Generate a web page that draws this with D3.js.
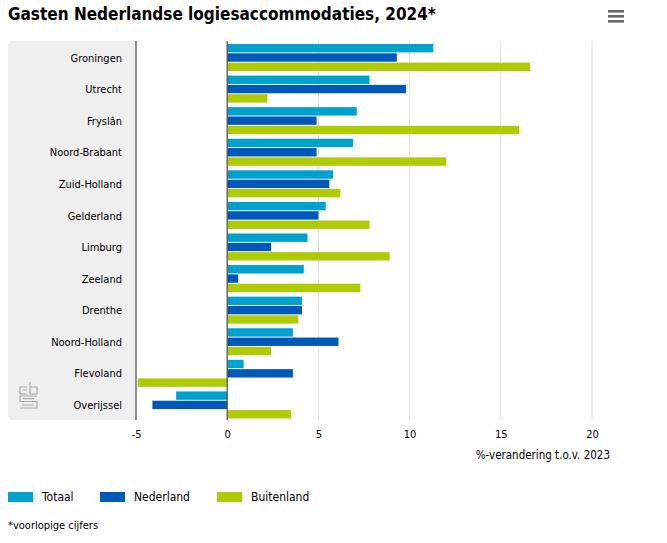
<!DOCTYPE html>
<html>
<head>
<meta charset="utf-8">
<script src="https://cdn.jsdelivr.net/npm/d3@7"></script>
<style>
  body { margin: 0; background: #fff; }
  svg text { font-family: "DejaVu Sans Condensed", "DejaVu Sans", sans-serif; fill: #000; }
</style>
</head>
<body>
<svg id="svg"></svg>
<script>
const provincies = ['Groningen','Utrecht','Fryslân','Noord-Brabant','Zuid-Holland','Gelderland',
  'Limburg','Zeeland','Drenthe','Noord-Holland','Flevoland','Overijssel'];
const series = ['Totaal','Nederland','Buitenland'];
const totaal     = [11.3, 7.8, 7.1, 6.9, 5.8, 5.4, 4.4, 4.2, 4.1, 3.6, 0.9, -2.8];
const nederland  = [9.3, 9.8, 4.9, 4.9, 5.6, 5.0, 2.4, 0.6, 4.1, 6.1, 3.6, -4.1];
const buitenland = [16.6, 2.2, 16.0, 12.0, 6.2, 7.8, 8.9, 7.3, 3.9, 2.4, -4.9, 3.5];
const ticks = [-5, 0, 5, 10, 15, 20];
const colors = ['#00a1cd', '#0058b8', '#afcb05'];

const W = 667, H = 543;
const pTop = 41, pBottom = 420, pLeft = 136, pRight = 592;

const rows = provincies.map((p, i) => ({p, v: [totaal[i], nederland[i], buitenland[i]]}));

const svg = d3.select('#svg').attr('width', W).attr('height', H);

const x = d3.scaleLinear().domain([-5, 20]).range([pLeft, pRight]);
const y = d3.scaleBand().domain(provincies).range([pTop, pBottom]);
const ySub = d3.scaleBand().domain(series).range([3, 30]).paddingInner(0.1);

// title
svg.append('text')
  .attr('x', 8).attr('y', 20)
  .style('font-size', '17px').style('font-weight', 'bold')
  .text('Gasten Nederlandse logiesaccommodaties, 2024*');

// menu icon
svg.append('g').selectAll('rect')
  .data([0, 1, 2])
  .enter().append('rect')
  .attr('x', 608).attr('y', d => 10 + d * 5)
  .attr('width', 16).attr('height', 2.6)
  .attr('fill', '#666');

// label panel
svg.append('path')
  .attr('d', `M${pLeft},${pTop} H13 Q8,${pTop} 8,${pTop + 5} V${pBottom - 5} Q8,${pBottom} 13,${pBottom} H${pLeft} Z`)
  .attr('fill', '#efefef');

// cbs logo (simplified)
const logo = svg.append('g')
  .attr('transform', 'translate(19,382)')
  .attr('fill', 'none').attr('stroke', '#aaa').attr('stroke-width', 1.2);
logo.append('path').attr('d', 'M8,5 H1 V12 H8 M4,8 H8');
logo.append('path').attr('d', 'M11,0 V12 H18 V5 H11');
logo.append('path').attr('d', 'M18,14 H1 V19.5 H18 V26 H1 M4,16.7 H15 M3,23 H15');

// gridlines
svg.append('g').selectAll('line')
  .data(ticks.filter(t => t > 0))
  .enter().append('line')
  .attr('x1', d => x(d)).attr('x2', d => x(d))
  .attr('y1', pTop).attr('y2', pBottom)
  .attr('stroke', '#e0e0e0').attr('stroke-width', 1);

// bars
const groups = svg.append('g').selectAll('g')
  .data(rows)
  .enter().append('g')
  .attr('transform', d => `translate(0,${y(d.p)})`);

groups.selectAll('rect')
  .data(d => d.v.map((v, i) => ({v, s: series[i], i})))
  .enter().append('rect')
  .attr('x', d => x(Math.min(0, d.v)))
  .attr('width', d => Math.abs(x(d.v) - x(0)))
  .attr('y', d => ySub(d.s))
  .attr('height', ySub.bandwidth())
  .attr('fill', d => colors[d.i]);

// axis lines at -5 and 0
svg.append('g').selectAll('line')
  .data([-5, 0])
  .enter().append('line')
  .attr('x1', d => x(d)).attr('x2', d => x(d))
  .attr('y1', pTop).attr('y2', pBottom)
  .attr('stroke', '#555').attr('stroke-width', 1.3);

// category labels
svg.append('g').selectAll('text')
  .data(provincies)
  .enter().append('text')
  .attr('x', 122)
  .attr('y', d => y(d) + y.bandwidth() / 2 + 1)
  .attr('dy', '0.35em')
  .attr('text-anchor', 'end')
  .style('font-size', '11px')
  .text(d => d);

// x axis
const xAxis = svg.append('g')
  .attr('transform', `translate(0,${pBottom})`)
  .call(d3.axisBottom(x).tickValues(ticks).tickSize(0).tickPadding(10).tickFormat(d => String(d)));
xAxis.select('.domain').remove();
xAxis.selectAll('text').style('font-size', '11px')
  .style('font-family', '"DejaVu Sans Condensed", "DejaVu Sans", sans-serif').attr('fill', '#000');

svg.append('text')
  .attr('x', 610).attr('y', 459)
  .attr('text-anchor', 'end')
  .style('font-size', '11.5px')
  .text('%-verandering t.o.v. 2023');

// legend
const legendX = [8, 100, 217];
const legend = svg.append('g').selectAll('g')
  .data(series)
  .enter().append('g')
  .attr('transform', (_, i) => `translate(${legendX[i]},492)`);
legend.append('rect')
  .attr('width', 25).attr('height', 10)
  .attr('fill', (_, i) => colors[i]);
legend.append('text')
  .attr('x', 34).attr('y', 5).attr('dy', '0.35em')
  .style('font-size', '12px')
  .text(d => d);

svg.append('text')
  .attr('x', 8).attr('y', 529)
  .style('font-size', '11px')
  .text('*voorlopige cijfers');
</script>
</body>
</html>
